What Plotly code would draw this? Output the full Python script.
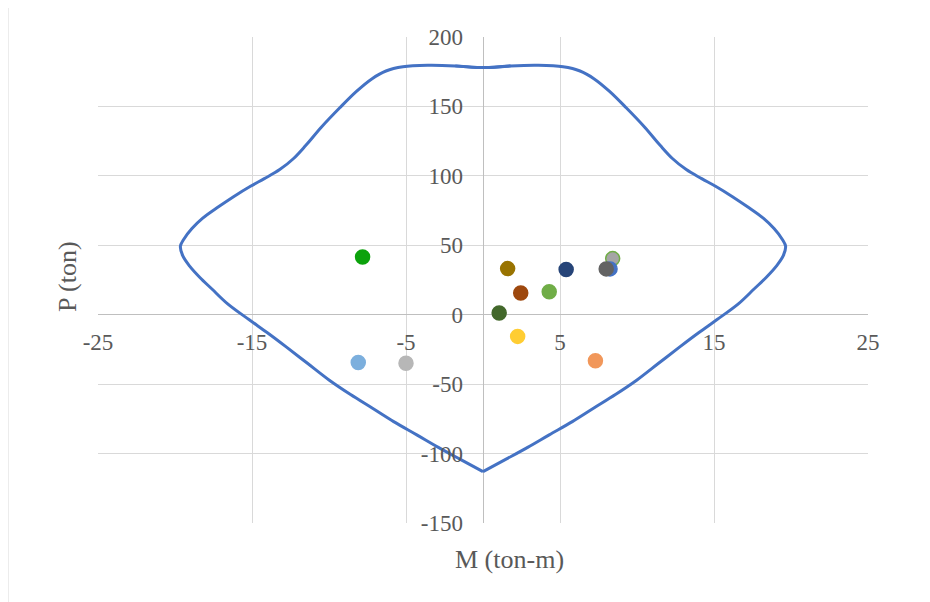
import plotly.graph_objects as go

# Interaction curve (M, P), drawn as two halves that meet at the bottom vertex
right_m = [-1.8, 0, 1.8, 3.6, 5.2, 6.3, 7.2, 8.2, 9.3, 10.5, 11.5, 12.3, 13.2, 14.2, 15.1,
           16.2, 17.2, 18.2, 18.9, 19.45, 19.65, 19.5, 19.05, 18.4, 17.6, 16.6, 15.2, 14.0,
           12.8, 11.4, 10.0, 8.6, 7.2, 5.8, 4.3, 2.9, 1.5, 0]
right_p = [179.2, 178, 179.2, 179.6, 178.5, 175.5, 170, 161, 149, 135, 122, 112.5, 104.5, 98,
           92.5, 85, 77.5, 69.5, 62, 54, 49.3, 42.5, 35, 27, 18.5, 8, -3.5, -13,
           -23, -35, -47, -57.5, -67.2, -77, -86.5, -95.5, -104, -113]
left_m = [1.8, 0, -1.8, -3.6, -5.2, -6.3, -7.2, -8.2, -9.3, -10.5, -11.5, -12.3, -13.2, -14.2,
          -15.1, -16.2, -17.2, -18.2, -18.9, -19.45, -19.65, -19.5, -19.05, -18.4, -17.6,
          -16.6, -15.2, -14.0, -12.8, -11.4, -10.0, -8.6, -7.2, -5.8, -4.3, -2.9, -1.5, 0]
left_p = [179.2, 178, 179.2, 179.6, 178.5, 175.5, 170, 161, 149, 135, 122, 112.5, 104.5, 98,
          92.5, 85, 77.5, 69.5, 62, 54, 49.3, 42.5, 35, 27, 18.5,
          8, -3.5, -13, -23, -35, -47, -57.5, -67.2, -77, -86.5, -95.5, -104, -113]

# Load points (M, P)
load_m = [7.3, -5.0, 2.25, -8.1, 4.3, 5.4, 2.45, 1.6, -7.82, 1.05, 8.42, 8.25, 8.0]
load_p = [-33.2, -34.9, -15.6, -34.4, 16.6, 32.5, 15.6, 33.2, 41.6, 1.2, 40.4, 33.0, 33.0]
point_colors = ["#F1975A", "#B7B7B7", "#FFCD33", "#7CAFDD", "#70AD47", "#264478",
                "#9E480E", "#997300", "#0CA20C", "#43682B", "#A5A5A5", "#4472C4", "#636363"]
point_lines = ["#F1975A", "#B7B7B7", "#FFCD33", "#7CAFDD", "#70AD47", "#264478",
               "#9E480E", "#997300", "#0CA20C", "#43682B", "#70AD47", "#4472C4", "#636363"]

x_ticks = [-25, -15, -5, 5, 15, 25]
y_ticks = [-150, -100, -50, 0, 50, 100, 150, 200]

fig = go.Figure()
for xs, ys in [(right_m, right_p), (left_m, left_p)]:
    fig.add_trace(go.Scatter(x=xs, y=ys, mode="lines",
                             line=dict(color="#4472C4", width=3, shape="spline", smoothing=1.0),
                             showlegend=False, hoverinfo="skip"))
for m, p, c, lc in zip(load_m, load_p, point_colors, point_lines):
    fig.add_trace(go.Scatter(x=[m], y=[p], mode="markers",
                             marker=dict(size=14, color=c, line=dict(color=lc, width=1.5)),
                             showlegend=False))

# page body has an 8px margin, so the plot box is shifted by -8px to compensate
OFF = 8
L, T, W, H = 98 - OFF, 37 - OFF, 770, 486
tick_font = dict(family="Liberation Serif", size=23, color="#595959")
title_font = dict(family="Liberation Serif", size=26, color="#595959")
fig.update_layout(
    width=930, height=602,
    margin=dict(l=L, r=930 - L - W, t=T, b=602 - T - H),
    paper_bgcolor="white", plot_bgcolor="white",
    xaxis=dict(range=[-25, 25], tickvals=x_ticks, ticktext=[str(v) for v in x_ticks],
               showgrid=True, gridcolor="#D9D9D9", gridwidth=1,
               zeroline=True, zerolinecolor="#BFBFBF", zerolinewidth=1,
               showline=False, ticks="", tickfont=tick_font,
               anchor="free", position=150 / 350, ticklabelstandoff=11),
    yaxis=dict(range=[-150, 200], tickvals=y_ticks, ticktext=[str(v) for v in y_ticks],
               showgrid=True, gridcolor="#D9D9D9", gridwidth=1,
               zeroline=True, zerolinecolor="#BFBFBF", zerolinewidth=1,
               showline=False, ticks="", tickfont=tick_font,
               anchor="free", position=0.5, ticklabelstandoff=20),
    annotations=[
        dict(text="M (ton-m)", xref="paper", yref="paper", x=(510 - 98) / W, y=(523 - 559) / H,
             showarrow=False, font=title_font, xanchor="center", yanchor="middle"),
        dict(text="P (ton)", xref="paper", yref="paper", x=(67 - 98) / W, y=(523 - 277) / H,
             showarrow=False, textangle=-90, font=title_font,
             xanchor="center", yanchor="middle"),
    ],
    shapes=[dict(type="line", xref="paper", yref="paper",
                 x0=(8 - 98) / W, x1=(8 - 98) / W, y0=(523 - 610) / H, y1=(523 + 10) / H,
                 line=dict(color="#D9D9D9", width=1))],
)
fig.write_html("out.html")
